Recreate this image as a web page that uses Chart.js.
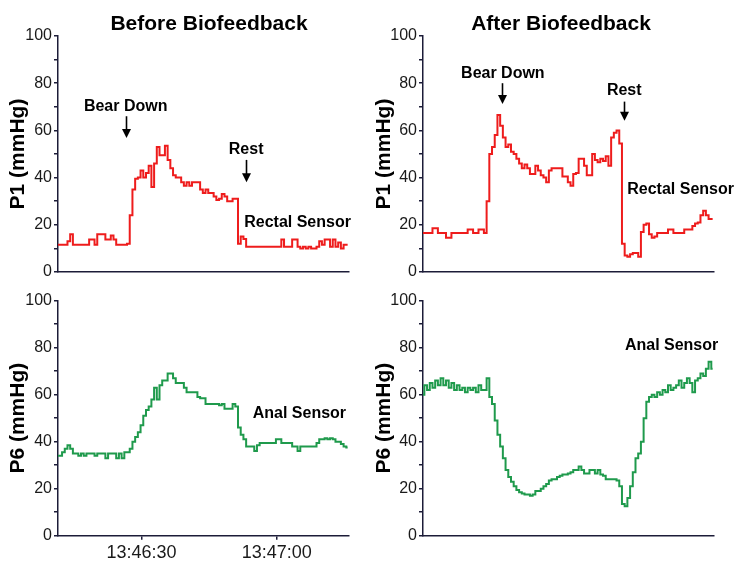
<!DOCTYPE html>
<html>
<head>
<meta charset="utf-8">
<script src="https://cdn.jsdelivr.net/npm/chart.js@4.4.1/dist/chart.umd.min.js"></script>
<style>
  body { margin: 0; background: #fff; }
  #wrap { position: relative; width: 745px; height: 571px; }
  #wrap canvas { position: absolute; }
</style>
</head>
<body>
<div id="wrap">
  <canvas id="c1" width="372" height="285" style="left:0;top:0"></canvas>
  <canvas id="c2" width="373" height="285" style="left:372px;top:0"></canvas>
  <canvas id="c3" width="372" height="286" style="left:0;top:285px"></canvas>
  <canvas id="c4" width="373" height="286" style="left:372px;top:285px"></canvas>
</div>
<script>
// sampling: one value every 0.6 s, starting 13:46:11.5 (seconds after 13:46:00)
const T0 = 11.5;
const DT = 0.6;

const timeTicks = [30, 60];
const timeLabels = ['13:46:30', '13:47:00'];

// P1 rectal, before biofeedback
const beforeRectal = [
  11.5, 11.5, 11.5, 11.5, 13, 16, 11.5, 11.5, 11.5, 11.5,
  11.5, 11.5, 13.8, 13.8, 11.5, 16, 16, 16, 13.8, 13.8,
  15.5, 13.8, 11.5, 11.5, 11.5, 11.5, 12, 24, 35, 39.5,
  40, 43, 40, 42, 45, 36, 46, 53, 49.5, 49.5,
  53.5, 47.5, 44, 41, 40, 40, 38, 36.5, 38, 36.5,
  38, 38, 38, 35, 33.5, 35, 33.5, 33.5, 32, 30.5,
  31, 33, 32, 30, 30, 31, 31, 12, 15, 14,
  10.7, 10.7, 10.7, 10.7, 10.7, 10.7, 10.7, 10.7, 10.7, 10.7,
  10.7, 10.7, 10.7, 13.8, 10.7, 10.7, 10.7, 13.8, 13.8, 10.7,
  10, 10.7, 10, 10.7, 10, 10, 10.7, 13, 11.5, 13.8,
  13.8, 10.7, 13.8, 10.7, 12.5, 10, 11.5, 11.5
];

// P1 rectal, after biofeedback
const afterRectal = [
  16.5, 16.5, 16.5, 16.5, 18.5, 18.5, 16.5, 16.5, 16.5, 14.5,
  14.5, 16.5, 16.5, 16.5, 16.5, 16.5, 16.5, 18, 18, 16.5,
  16.5, 18, 18, 16.5, 30, 50, 53, 58, 66.5, 62,
  57, 53, 54, 51, 50, 48, 46, 44, 45.5, 44,
  41.5, 41.5, 45, 43, 41, 40, 38, 43, 44, 44,
  44, 44, 40.5, 40.5, 38, 36.5, 41.5, 42, 48, 48,
  45, 41, 41, 50, 47.5, 46.5, 48, 47, 49, 45,
  57, 59, 60, 54.5, 12, 7, 6.5, 7.5, 8, 8,
  6.5, 17, 20, 20.5, 16, 14.5, 15, 16.5, 16.5, 16.5,
  16.5, 18, 18, 16.5, 16.5, 16.5, 16.5, 18, 18, 18,
  19.5, 20.5, 21, 24, 26, 24, 22.5, 22.5
];

// P6 anal, before biofeedback
const beforeAnal = [
  34, 34, 35.5, 37, 38.5, 37, 35, 35, 34, 35,
  34, 35, 35, 35, 34, 35, 35, 35, 33, 35,
  35, 35, 33, 35, 33, 35.5, 35.5, 37, 40, 42,
  44, 47, 51, 53.5, 55, 58, 63, 58, 64, 66,
  66, 69, 69, 67, 65, 65, 65, 63, 61, 61,
  61, 61, 59, 58.5, 58.5, 56, 56, 56, 56, 56,
  55.5, 56, 54, 54, 54, 56, 55, 46, 43, 41,
  38, 38, 38, 36, 38.5, 39.5, 39.5, 39.5, 39.5, 39.5,
  39.5, 41, 41, 39.5, 39.5, 39.5, 39.5, 38, 38, 36,
  38, 38, 38, 38, 38, 38, 39.5, 41, 41, 41.5,
  41, 41.5, 41, 40, 40, 39, 38, 37.5
];

// P6 anal, after biofeedback
const afterAnal = [
  60, 64, 62, 65, 63, 66, 64, 67, 64, 66,
  63, 65, 62, 64, 62, 63, 61, 63, 62, 63,
  61, 64, 62, 62, 67, 59, 56, 49, 43, 38,
  33, 28, 25, 23, 21, 19.5, 18.5, 18, 17.5, 17.5,
  17, 17.5, 19, 19, 20, 21, 22, 23.5, 24, 24,
  25, 25.5, 26, 26, 26.5, 27, 28, 28, 29.5, 28,
  26.5, 26.5, 28, 28, 26.5, 28, 26, 25.5, 24, 24,
  24, 24, 23.5, 21, 13.5, 12.5, 16, 21, 27, 33,
  35, 40, 50, 57, 59, 60, 59, 61, 60, 62,
  61, 64, 62, 63, 64, 66, 63, 65, 67, 65,
  61, 66, 67, 69, 68, 71, 74, 71
];

const RED = '#ee1c1c';
const GREEN = '#1f9a4c';
const AXIS = '#1c1c38';
const FONT = '"Liberation Sans", Arial, sans-serif';

function toPoints(values) {
  return values.map((v, i) => ({ x: T0 + i * DT, y: v }));
}

// draws panel titles, labels and arrows
const panelText = {
  id: 'panelText',
  afterDraw(chart, args, opts) {
    const ctx = chart.ctx;
    const xs = chart.scales.x, ys = chart.scales.y;
    ctx.save();
    ctx.fillStyle = '#000';
    ctx.textAlign = 'center';
    ctx.textBaseline = 'middle';
    if (opts.title) {
      ctx.font = 'bold 21px ' + FONT;
      ctx.fillText(opts.title, opts.titleX, 24);
    }
    ctx.font = 'bold 16px ' + FONT;
    (opts.notes || []).forEach(n => {
      ctx.fillText(n.text, xs.getPixelForValue(n.t), ys.getPixelForValue(n.v));
    });
    ctx.strokeStyle = '#000';
    ctx.lineWidth = 1.6;
    (opts.arrows || []).forEach(a => {
      const x = Math.round(xs.getPixelForValue(a.t)) + 0.5;
      const y1 = ys.getPixelForValue(a.from);
      const y2 = ys.getPixelForValue(a.to);
      ctx.beginPath();
      ctx.moveTo(x, y1);
      ctx.lineTo(x, y2 - 6);
      ctx.stroke();
      ctx.beginPath();
      ctx.moveTo(x - 4.5, y2 - 9);
      ctx.lineTo(x + 4.5, y2 - 9);
      ctx.lineTo(x, y2);
      ctx.closePath();
      ctx.fill();
    });
    ctx.restore();
  }
};

function makeChart(id, cfg) {
  const ctx = document.getElementById(id).getContext('2d');
  return new Chart(ctx, {
    type: 'line',
    data: {
      datasets: [{
        data: toPoints(cfg.values),
        borderColor: cfg.color,
        borderWidth: 2,
        pointRadius: 0,
        tension: 0,
        stepped: 'middle'
      }]
    },
    options: {
      responsive: false,
      animation: false,
      devicePixelRatio: 1,
      layout: { padding: { top: cfg.padTop, right: cfg.padRight, left: 0, bottom: 0 } },
      plugins: {
        legend: { display: false },
        tooltip: { enabled: false },
        panelText: { title: cfg.title, titleX: cfg.titleX, notes: cfg.notes, arrows: cfg.arrows }
      },
      scales: {
        x: {
          type: 'linear',
          min: 11.5,
          max: 76,
          afterFit: s => { s.height = cfg.xHeight; },
          afterBuildTicks: s => { s.ticks = cfg.timeAxis ? timeTicks.map(v => ({ value: v })) : []; },
          ticks: {
            display: cfg.timeAxis,
            font: { family: FONT, size: 18 },
            color: '#1a1a1a',
            padding: 3,
            maxRotation: 0,
            callback: v => timeLabels[timeTicks.indexOf(v)]
          },
          grid: { display: cfg.timeAxis, drawOnChartArea: false, tickLength: 4, color: AXIS, lineWidth: 1.5 },
          border: { color: AXIS, width: 1.5 }
        },
        y: {
          min: 0,
          max: 100,
          afterFit: s => { s.width = cfg.yWidth; },
          ticks: {
            stepSize: 10,
            font: { family: FONT, size: 16 },
            color: '#1a1a1a',
            padding: 2,
            callback: v => (v % 20 === 0 ? v : '')
          },
          grid: { drawOnChartArea: false, tickLength: 4, color: AXIS, lineWidth: 1.5 },
          border: { color: AXIS, width: 1.5 },
          title: {
            display: true,
            text: cfg.yTitle,
            color: '#000',
            font: { family: FONT, size: 21, weight: 'bold' },
            padding: { top: cfg.yTitlePad, bottom: 0 }
          }
        }
      }
    },
    plugins: [panelText]
  });
}

makeChart('c1', {
  values: beforeRectal, color: RED,
  title: 'Before Biofeedback', titleX: 209, yTitle: 'P1 (mmHg)',
  padTop: 36, padRight: 23, xHeight: 13, yWidth: 58, yTitlePad: 6, timeAxis: false,
  notes: [
    { text: 'Bear Down', t: 26.5, v: 70 },
    { text: 'Rest', t: 53.2, v: 51.7 },
    { text: 'Rectal Sensor', t: 64.6, v: 20.8 }
  ],
  arrows: [
    { t: 26.5, from: 66, to: 56.8 },
    { t: 53.1, from: 47.5, to: 38 }
  ]
});

makeChart('c2', {
  values: afterRectal, color: RED,
  title: 'After Biofeedback', titleX: 189, yTitle: 'P1 (mmHg)',
  padTop: 36, padRight: 31, xHeight: 13, yWidth: 51, yTitlePad: 0, timeAxis: false,
  notes: [
    { text: 'Bear Down', t: 29.2, v: 83.9 },
    { text: 'Rest', t: 56.1, v: 76.8 },
    { text: 'Rectal Sensor', t: 68.6, v: 35 }
  ],
  arrows: [
    { t: 29.1, from: 80, to: 71.2 },
    { t: 56.0, from: 72.2, to: 64.1 }
  ]
});

makeChart('c3', {
  values: beforeAnal, color: GREEN,
  yTitle: 'P6 (mmHg)',
  padTop: 15.7, padRight: 23, xHeight: 35.3, yWidth: 58, yTitlePad: 6, timeAxis: true,
  notes: [{ text: 'Anal Sensor', t: 65.0, v: 52.1 }],
  arrows: []
});

makeChart('c4', {
  values: afterAnal, color: GREEN,
  yTitle: 'P6 (mmHg)',
  padTop: 15.7, padRight: 31, xHeight: 35.3, yWidth: 51, yTitlePad: 0, timeAxis: false,
  notes: [{ text: 'Anal Sensor', t: 66.6, v: 81.1 }],
  arrows: []
});
</script>
</body>
</html>
